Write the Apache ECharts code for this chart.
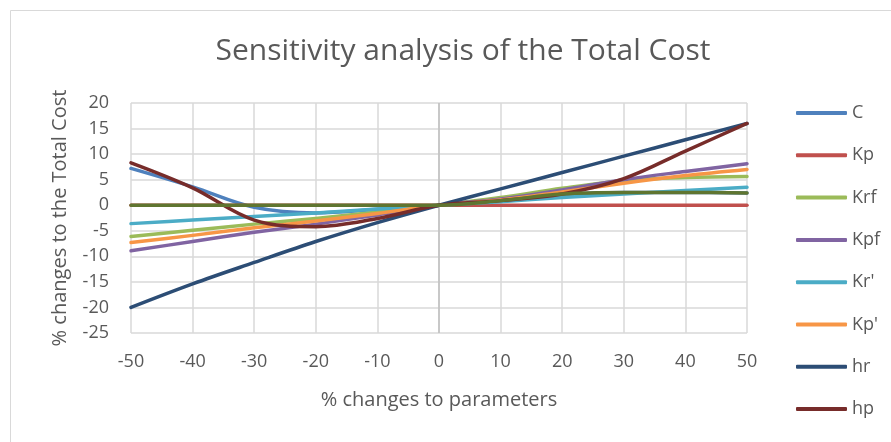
<!DOCTYPE html>
<html>
<head>
<meta charset="utf-8">
<script src="https://cdn.jsdelivr.net/npm/echarts@6/dist/echarts.min.js"></script>
<style>
html,body{margin:0;padding:0;background:#fff;}
#chart{width:891px;height:442px;}
</style>
</head>
<body>
<div id="chart"></div>
<script>
const xValues = [-50, -40, -30, -20, -10, 0, 10, 20, 30, 40, 50];
const seriesNames = ['C', 'Kp', 'Krf', 'Kpf', "Kr'", "Kp'", 'hr', 'hp', 'S9'];
const C   = [7.2, 3.6, -0.4, -1.5, -0.8, 0, 0.9, 2.1, 2.5, 2.5, 2.4];
const Kp  = [0, 0, 0, 0, 0, 0, 0, 0, 0, 0, 0];
const Krf = [-6.1, -4.9, -3.7, -2.6, -1.3, 0, 1.5, 3.3, 4.8, 5.4, 5.6];
const Kpf = [-8.9, -7.1, -5.3, -3.7, -1.9, 0, 1.2, 3.0, 5.0, 6.6, 8.1];
const Krp = [-3.6, -2.9, -2.2, -1.5, -0.75, 0, 0.7, 1.5, 2.2, 2.9, 3.5];
const Kpp = [-7.3, -5.9, -4.4, -3.1, -1.6, 0, 1.0, 2.6, 4.3, 5.8, 7.0];
const hr  = [-20, -15.4, -11.2, -7.1, -3.4, 0, 3.2, 6.4, 9.6, 12.8, 16];
const hp  = [8.3, 3.4, -2.9, -4.2, -2.6, 0, 0.9, 2.2, 5.2, 10.6, 16];
const S9  = [0, 0, 0, 0, 0, 0, 0.9, 2.2, 2.5, 2.5, 2.4];
const seriesValues = [C, Kp, Krf, Kpf, Krp, Kpp, hr, hp, S9];
const colors = ['#4F81BD', '#C0504D', '#9BBB59', '#8064A2', '#4BACC6', '#F79646', '#2C4D75', '#772C2A', '#5F7530'];
const legendNames = ['C', 'Kp', 'Krf', 'Kpf', "Kr'", "Kp'", 'hr', 'hp'];
const titleText = 'Sensitivity analysis of the Total Cost';
const xName = '% changes to parameters';
const yName = '% changes to the Total Cost';

const FONT = '"Open Sans", "Noto Sans", sans-serif';
const chart = echarts.init(document.getElementById('chart'), null, {renderer: 'canvas'});

const series = seriesNames.map((n, i) => ({
  name: n,
  type: 'line',
  data: xValues.map((x, j) => [x, seriesValues[i][j]]),
  smooth: 0.35,
  symbol: 'none',
  lineStyle: {color: colors[i], width: 3.5, cap: 'round', join: 'round'},
  itemStyle: {color: colors[i]},
  z: 2 + i,
  animation: false
}));
series[0].markLine = {
  silent: true, symbol: 'none', label: {show: false},
  lineStyle: {color: '#bfbfbf', width: 1.5, type: 'solid'},
  data: [{xAxis: 0}], z: 1, animation: false
};

chart.setOption({
  backgroundColor: '#fff',
  animation: false,
  color: colors,
  title: {
    text: titleText, left: 458, top: 31, textAlign: 'center',
    textStyle: {fontFamily: FONT, fontSize: 30, fontWeight: 'normal', color: '#595959'}
  },
  graphic: [{
    type: 'rect', shape: {x: 10.5, y: 10.5, width: 1000, height: 1000},
    style: {fill: 'none', stroke: '#d9d9d9', lineWidth: 1}, silent: true, z: -10
  }],
  legend: {
    orient: 'vertical', left: 796, top: 103,
    data: legendNames,
    icon: 'roundRect', itemWidth: 51, itemHeight: 4, itemGap: 22.3,
    itemStyle: {borderWidth: 0},
    textStyle: {fontFamily: FONT, fontSize: 18, color: '#595959', lineHeight: 20, padding: [0, 0, 0, 0]},
    itemTextGap: 4,
    padding: 0
  },
  grid: {left: 131, right: 891 - 747, top: 103, bottom: 442 - 333, containLabel: false},
  xAxis: {
    type: 'value', min: -50, max: 50, interval: 10,
    name: xName, nameLocation: 'middle', nameGap: 57,
    nameTextStyle: {fontFamily: FONT, fontSize: 20, color: '#595959'},
    axisLine: {show: false}, axisTick: {show: false},
    axisLabel: {fontFamily: FONT, fontSize: 18, color: '#595959', margin: 20},
    splitLine: {show: true, lineStyle: {color: '#d9d9d9', width: 1.5}}
  },
  yAxis: {
    type: 'value', min: -25, max: 20, interval: 5,
    name: yName, nameLocation: 'middle', nameGap: 61, nameRotate: 90,
    nameTextStyle: {fontFamily: FONT, fontSize: 20, color: '#595959'},
    axisLine: {show: false}, axisTick: {show: false},
    axisLabel: {fontFamily: FONT, fontSize: 18, color: '#595959', margin: 22},
    splitLine: {show: true, lineStyle: {color: '#d9d9d9', width: 1.5}}
  },
  series: series
});
</script>
</body>
</html>
